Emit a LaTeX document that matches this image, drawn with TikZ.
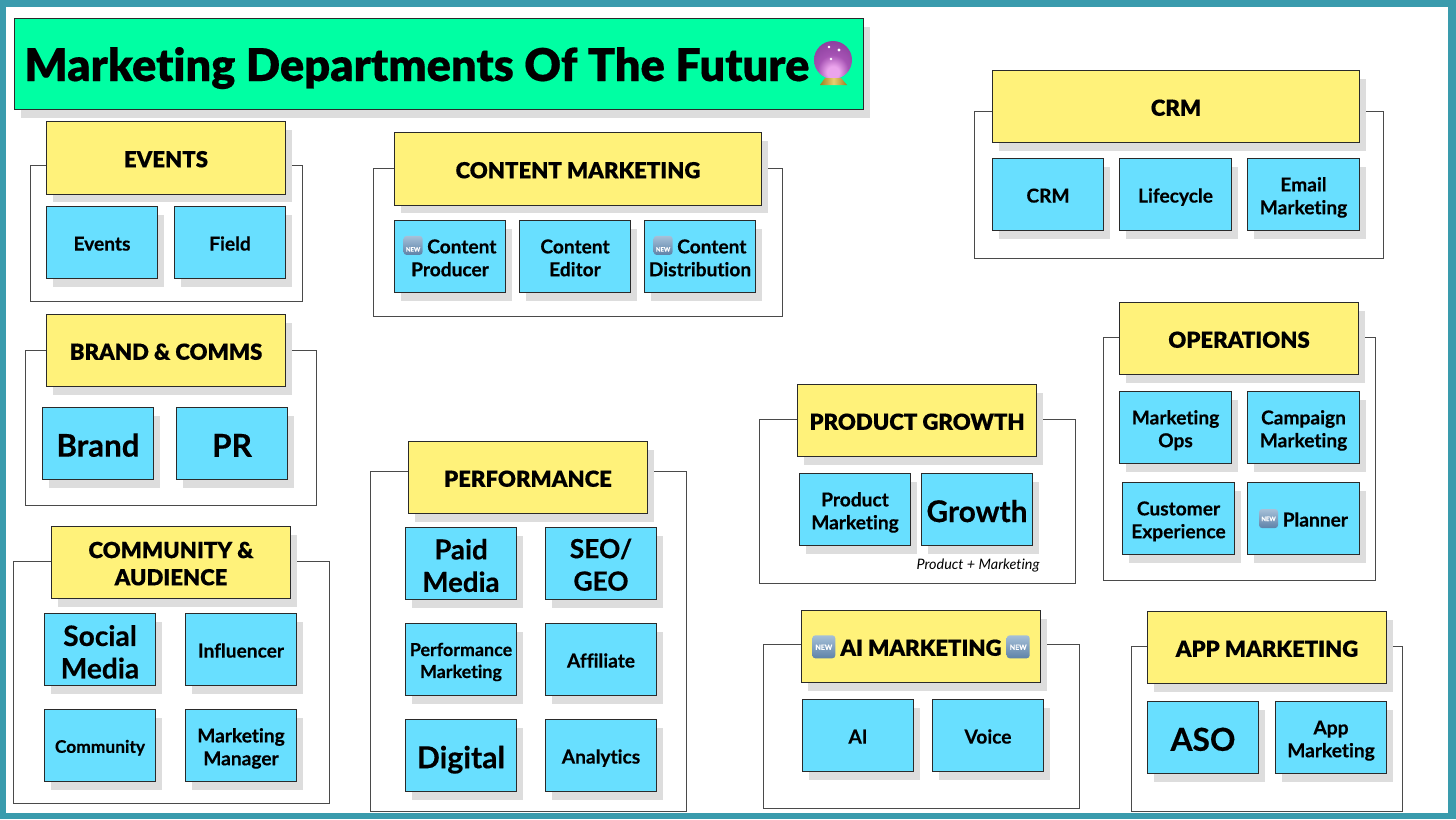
\documentclass[tikz,border=0pt]{standalone}
\usepackage{fontspec}
\usepackage{xcolor}
\usepackage{tikz}
\usetikzlibrary{shadows}
\setmainfont{Lato}[Ligatures=NoCommon, BoldFeatures={FakeBold=0.4}]
\newfontfamily\headfont{Lato Black}[Ligatures=NoCommon, FakeBold=0.4]
\definecolor{frameteal}{HTML}{3A9BAD}
\definecolor{titlegreen}{HTML}{00FFA3}
\definecolor{headyellow}{HTML}{FFF27A}
\definecolor{roleblue}{HTML}{68DFFF}
\definecolor{shadowgray}{HTML}{DDDDDD}
\definecolor{edgegray}{HTML}{2A2A2A}
\definecolor{pinkglow}{HTML}{EBA4EC}
\definecolor{orchidmid}{HTML}{A653B4}
\definecolor{plummid}{HTML}{823A96}
\definecolor{plumdark}{HTML}{4E1E62}
\definecolor{tagtop}{HTML}{A6C0D8}
\definecolor{tagbottom}{HTML}{5E82A8}
\definecolor{baseedge}{HTML}{A07F20}
\definecolor{basemid}{HTML}{E8CF70}
\pgfdeclareradialshading{crystalball}{\pgfpoint{0bp}{-18bp}}{color(0bp)=(pinkglow); color(8bp)=(pinkglow); color(20bp)=(orchidmid); color(42bp)=(plummid); color(62bp)=(plumdark); color(80bp)=(plumdark)}
\tikzset{
    dropped/.style={general shadow={fill=shadowgray, shadow xshift=0.13cm, shadow yshift=-0.165cm}},
    struts/.style={execute at begin node={\rule[-0.24em]{0pt}{1.32em}}, execute at end node={\rule[-0.24em]{0pt}{0.24em}}},
    twolines/.style={execute at begin node={\rule{0pt}{2.3em}}},
    titlebox/.style={draw=edgegray, line width=0.45pt, fill=titlegreen, dropped, minimum width=16.98cm, minimum height=1.83cm, inner sep=0pt},
    headbox/.style={draw=edgegray, line width=0.45pt, fill=headyellow, dropped, minimum width=4.78cm, minimum height=1.45cm, inner sep=0pt, align=center, struts, font=\headfont\fontsize{12.6}{15.5}\selectfont},
    widehead/.style={headbox, minimum width=7.34cm},
    rolebox/.style={draw=edgegray, line width=0.45pt, fill=roleblue, dropped, minimum width=2.23cm, minimum height=1.45cm, inner sep=0pt, align=center, struts, font=\bfseries\fontsize{10.9}{13}\selectfont},
    bigrole/.style={rolebox, font=\bfseries\fontsize{#1}{18.5}\selectfont},
    groupbox/.style={draw=edgegray!85, line width=0.45pt, fill=white},
    newtag/.style={rounded corners=0.06cm, top color=tagtop, bottom color=tagbottom, inner sep=0pt, minimum size=0.38cm, text=white, font=\bfseries\fontsize{3.4}{4}\selectfont}
}
\newcommand{\newicon}{\tikz[baseline=-0.16cm]\node[newtag] (newmark) {NEW};}
\newcommand{\bignewicon}{\tikz[baseline=-0.18cm]\node[newtag, minimum size=0.46cm, font=\bfseries\fontsize{4}{5}\selectfont] (newmark) {NEW};}
\begin{document}
\begin{tikzpicture}[x=0.02cm, y=-0.02cm]
    \useasboundingbox (0,0) rectangle (1456,819);
    % frame
    \fill[frameteal] (0,0) rectangle (1456,819);
    \fill[white] (6,7) rectangle (1448,813);
    % title
    \node[titlebox] (title) at (439,64) {};
    \node[anchor=base west, inner sep=0pt, font=\headfont\fontsize{25.7}{30}\selectfont] (titletext) at (24,81) {Marketing Departments Of The Future};
    \shade[shading=crystalball] (833,60) circle (19);
    \fill[white] (829,47) circle (1.3) (839,50) circle (1.6) (831,59) circle (1.3);
    \shade[left color=baseedge, right color=baseedge, middle color=basemid] (825,78) -- (841,78) -- (847,85) -- (820,85) -- cycle;
    % events
    \draw[groupbox] (30,165) rectangle (302,301);
    \node[headbox] (eventshead) at (166,158) {EVENTS};
    \node[rolebox] (events) at (102,242.5) {Events};
    \node[rolebox] (field) at (230,242.5) {Field};
    % content marketing
    \draw[groupbox] (373,168) rectangle (782,316);
    \node[widehead] (contenthead) at (578,169) {CONTENT MARKETING};
    \node[rolebox, twolines] (producer) at (450,256.5) {\newicon{} Content\\Producer};
    \node[rolebox, twolines] (editor) at (575,256.5) {Content\\Editor};
    \node[rolebox, twolines] (distribution) at (700,256.5) {\newicon{} Content\\Distribution};
    % crm
    \draw[groupbox] (974,111) rectangle (1383,258);
    \node[widehead] (crmhead) at (1176,106.5) {CRM};
    \node[rolebox] (crm) at (1048,194.5) {CRM};
    \node[rolebox] (lifecycle) at (1175.5,194.5) {Lifecycle};
    \node[rolebox, twolines] (email) at (1303.5,194.5) {Email\\Marketing};
    % brand and comms
    \draw[groupbox] (25,350) rectangle (316,505);
    \node[headbox] (brandhead) at (166,350.5) {BRAND \& COMMS};
    \node[bigrole=17.8] (brand) at (98,443.5) {Brand};
    \node[bigrole=18] (pr) at (232,443.5) {PR};
    % community and audience
    \draw[groupbox] (13,561) rectangle (329,803);
    \node[headbox, twolines] (communityhead) at (171,562.5) {COMMUNITY \&\\AUDIENCE};
    \node[bigrole=16, twolines] (social) at (100,649.5) {Social\\Media};
    \node[rolebox] (influencer) at (241,649.5) {Influencer};
    \node[rolebox, font=\bfseries\fontsize{9.9}{12}\selectfont] (community) at (100,745.5) {Community};
    \node[rolebox, twolines] (manager) at (241,745.5) {Marketing\\Manager};
    % performance
    \draw[groupbox] (370,471) rectangle (686,811);
    \node[headbox] (perfhead) at (528,477.5) {PERFORMANCE};
    \node[bigrole=15.7, twolines] (paid) at (461,563.5) {Paid\\Media};
    \node[bigrole=15, twolines] (seo) at (601,563.5) {SEO/\\GEO};
    \node[rolebox, twolines, font=\bfseries\fontsize{10.2}{12.5}\selectfont] (perfmarketing) at (461,659.5) {Performance\\Marketing};
    \node[rolebox] (affiliate) at (601,659.5) {Affiliate};
    \node[bigrole=17.2] (digital) at (461,755.5) {Digital};
    \node[rolebox] (analytics) at (601,755.5) {Analytics};
    % product growth
    \draw[groupbox] (759,419) rectangle (1075,583);
    \node[headbox] (producthead) at (917,420.5) {PRODUCT GROWTH};
    \node[rolebox, twolines] (productmarketing) at (855,509.5) {Product\\Marketing};
    \node[bigrole=17] (growth) at (977,509.5) {Growth};
    \node[font=\itshape\fontsize{8.2}{10}\selectfont, inner sep=0pt] (productnote) at (978,565) {Product + Marketing};
    % ai marketing
    \draw[groupbox] (763,644) rectangle (1079,808);
    \node[headbox] (aihead) at (921,646.5) {\bignewicon{} AI MARKETING \bignewicon{}};
    \node[rolebox] (ai) at (858,735.5) {AI};
    \node[rolebox] (voice) at (988,735.5) {Voice};
    % operations
    \draw[groupbox] (1103,337) rectangle (1375,580);
    \node[headbox] (opshead) at (1239,338.5) {OPERATIONS};
    \node[rolebox, twolines] (ops) at (1175.5,427.5) {Marketing\\Ops};
    \node[rolebox, twolines] (campaign) at (1303.5,427.5) {Campaign\\Marketing};
    \node[rolebox, twolines] (experience) at (1178.5,518.5) {Customer\\Experience};
    \node[rolebox] (planner) at (1303.5,518.5) {\newicon{} Planner};
    % app marketing
    \draw[groupbox] (1131,646) rectangle (1402,811);
    \node[headbox] (apphead) at (1267,647.5) {APP MARKETING};
    \node[bigrole=18] (aso) at (1203,737.5) {ASO};
    \node[rolebox, twolines] (appmarketing) at (1331,737.5) {App\\Marketing};
\end{tikzpicture}
\end{document}
